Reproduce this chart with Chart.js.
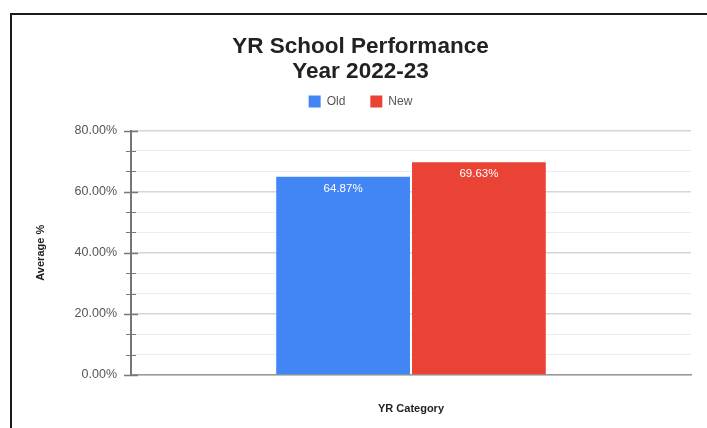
<!DOCTYPE html>
<html>
<head>
<meta charset="utf-8">
<script src="https://cdn.jsdelivr.net/npm/chart.js@4.4.0/dist/chart.umd.min.js"></script>
<style>
  html, body { margin: 0; padding: 0; background: #fff; }
  #wrap { position: relative; width: 707px; height: 428px; overflow: hidden; }
  #frame { position: absolute; left: 10px; top: 13px; width: 760px; height: 480px; border: 2px solid #1a1a1a; }
  canvas { position: absolute; left: 0; top: 0; }
</style>
</head>
<body>
<div id="wrap">
  <div id="frame"></div>
  <canvas id="chart" width="707" height="428"></canvas>
</div>
<script>
// === Data ===
const categories = ['YR'];
const seriesNames = ['Old', 'New'];
const seriesColors = ['#4285f4', '#ea4335'];
const oldValues = [64.87];
const newValues = [69.63];
const majorTicks = [0, 20, 40, 60, 80];
const minorPerMajor = 3;

const FONT = "'Liberation Sans', Arial, sans-serif";

// labels drawn at the top inside each bar
const barLabels = {
    id: 'barLabels',
    afterDatasetsDraw(chart) {
        const ctx = chart.ctx;
        ctx.save();
        ctx.font = '11.5px ' + FONT;
        ctx.fillStyle = '#ffffff';
        ctx.textAlign = 'center';
        ctx.textBaseline = 'middle';
        chart.data.datasets.forEach((ds, i) => {
            chart.getDatasetMeta(i).data.forEach((bar, j) => {
                ctx.fillText(ds.data[j].toFixed(2) + '%', bar.x, bar.y + 12);
            });
        });
        ctx.restore();
    }
};

// small tick marks crossing the y axis line
const yTickMarks = {
    id: 'yTickMarks',
    afterDraw(chart) {
        const scale = chart.scales.y;
        const ctx = chart.ctx;
        const x = scale.right;
        ctx.save();
        ctx.strokeStyle = '#777';
        scale.ticks.forEach(t => {
            const y = Math.round(scale.getPixelForValue(t.value)) + 0.5;
            const major = isMajor(t.value);
            const len = major ? 7 : 5;
            ctx.lineWidth = major ? 1.5 : 1;
            ctx.beginPath();
            ctx.moveTo(x - len, y);
            ctx.lineTo(x + len, y);
            ctx.stroke();
        });
        ctx.restore();
    }
};

// extra space below the legend before the plot
const legendGap = {
    id: 'legendGap',
    beforeInit(chart) {
        const legend = chart.legend;
        if (!legend) return;
        const fit = legend.fit;
        legend.fit = function () {
            fit.call(this);
            this.height += 13;
        };
    }
};

const isMajor = v => majorTicks.some(m => Math.abs(m - v) < 1e-6);

new Chart(document.getElementById('chart'), {
    type: 'bar',
    data: {
        labels: categories,
        datasets: [
            { label: seriesNames[0], data: oldValues, backgroundColor: seriesColors[0], borderWidth: 0 },
            { label: seriesNames[1], data: newValues, backgroundColor: seriesColors[1], borderWidth: 0 }
        ]
    },
    options: {
        responsive: false,
        animation: false,
        categoryPercentage: 0.485,
        barPercentage: 0.985,
        layout: { padding: { left: 30, right: 16, top: 34, bottom: 8 } },
        plugins: {
            title: {
                display: true,
                text: ['YR School Performance', 'Year 2022-23'],
                color: '#222',
                font: { family: FONT, size: 22.5, weight: 'bold', lineHeight: '25px' },
                padding: { top: 0, bottom: -13.5 }
            },
            legend: {
                labels: {
                    color: '#555',
                    font: { family: FONT, size: 12 },
                    boxWidth: 12,
                    boxHeight: 12,
                    padding: 25
                }
            },
            tooltip: { enabled: false }
        },
        scales: {
            x: {
                grid: { display: false },
                border: { color: '#999', width: 1.5 },
                ticks: { display: false },
                title: {
                    display: true,
                    text: 'YR Category',
                    color: '#222',
                    font: { family: FONT, size: 11, weight: 'bold' }
                },
                afterFit: s => { s.height = 45; }
            },
            y: {
                min: majorTicks[0],
                max: majorTicks[majorTicks.length - 1],
                afterBuildTicks: scale => {
                    const ticks = [];
                    for (let i = 0; i < majorTicks.length; i++) {
                        ticks.push({ value: majorTicks[i] });
                        if (i < majorTicks.length - 1) {
                            const step = (majorTicks[i + 1] - majorTicks[i]) / minorPerMajor;
                            for (let k = 1; k < minorPerMajor; k++) ticks.push({ value: majorTicks[i] + k * step });
                        }
                    }
                    scale.ticks = ticks;
                },
                grid: {
                    drawTicks: false,
                    color: ctx => isMajor(ctx.tick.value) ? '#d6d6d6' : '#ececec',
                    lineWidth: ctx => isMajor(ctx.tick.value) ? 1.5 : 1
                },
                border: { color: '#777', width: 2 },
                ticks: {
                    autoSkip: false,
                    padding: 14,
                    color: '#555',
                    font: { family: FONT, size: 12.5 },
                    callback: v => isMajor(v) ? v.toFixed(2) + '%' : ''
                },
                title: {
                    display: true,
                    text: 'Average %',
                    color: '#222',
                    font: { family: FONT, size: 11, weight: 'bold' }
                },
                afterFit: s => { s.width = 101; }
            }
        }
    },
    plugins: [barLabels, yTickMarks, legendGap]
});
</script>
</body>
</html>
